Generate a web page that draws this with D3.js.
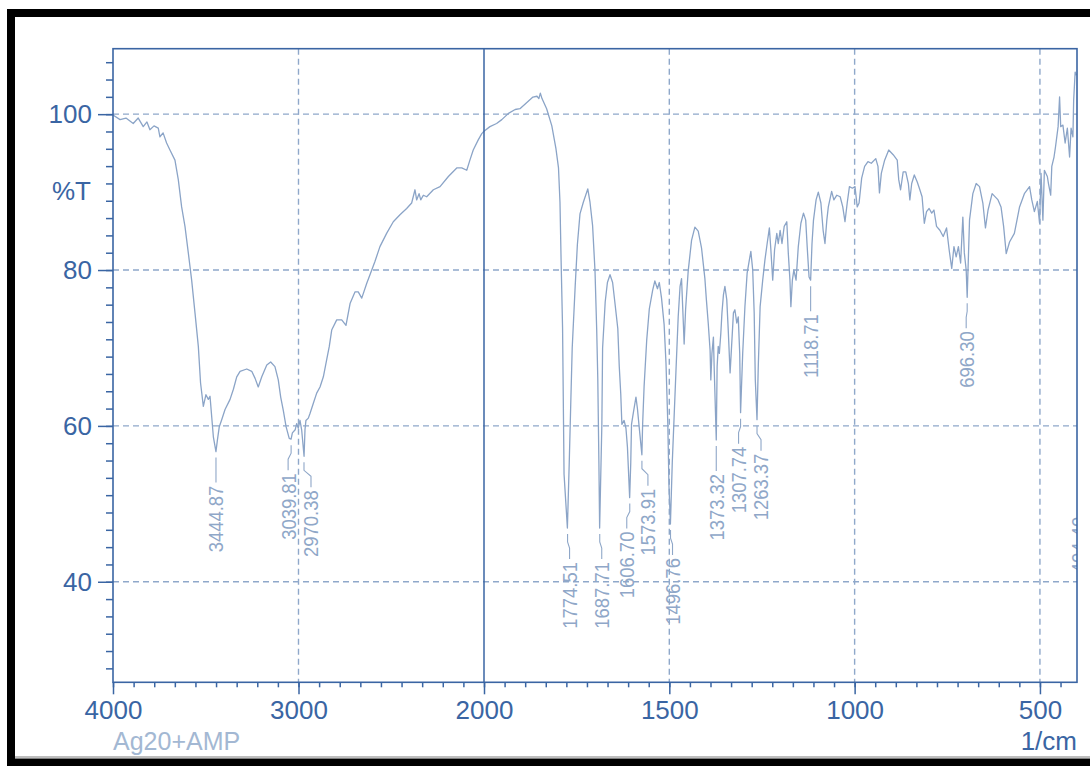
<!DOCTYPE html>
<html>
<head>
<meta charset="utf-8">
<script src="https://cdn.jsdelivr.net/npm/d3@7"></script>
<style>
  body { margin: 0; background: #fff; }
  text { font-family: "Liberation Sans", Arial, sans-serif; }
</style>
</head>
<body>
<div id="main"></div>
<script>
// spectrum (1/cm, %T)
const wavenumber = [
  4000, 3962, 3930, 3891, 3864, 3837, 3817, 3801, 3779, 3756, 3747, 3730, 3711, 3693, 3666, 3648, 3630, 3612, 3594, 3576,
  3558, 3540, 3528, 3513, 3499, 3486, 3477, 3468, 3459, 3445, 3437, 3427, 3414, 3396, 3369, 3351, 3333, 3315, 3279, 3252,
  3234, 3217, 3198, 3171, 3150, 3127, 3109, 3096, 3082, 3067, 3050, 3040, 3033, 3018, 3010, 3001, 2992, 2983, 2970, 2965,
  2960, 2947, 2938, 2920, 2902, 2884, 2866, 2848, 2834, 2821, 2794, 2767, 2744, 2722, 2695, 2678, 2659, 2632, 2605, 2588,
  2561, 2525, 2489, 2453, 2417, 2390, 2372, 2363, 2350, 2341, 2327, 2309, 2273, 2237, 2192, 2147, 2120, 2093, 2076, 2058,
  2031, 2012, 2000,
  1984, 1966, 1952, 1934, 1916, 1903, 1868, 1857, 1852, 1848, 1843.5, 1831, 1817, 1806, 1799, 1795, 1792, 1788, 1784, 1775,
  1770, 1766, 1762, 1754, 1748, 1741, 1732, 1725, 1720, 1714, 1707, 1700.5, 1696, 1693, 1690, 1688, 1682, 1680, 1673, 1667,
  1660, 1653, 1647, 1639, 1635, 1631, 1628, 1622, 1617, 1613, 1607, 1604, 1602, 1597, 1590, 1586, 1582, 1574, 1572, 1568,
  1561, 1554, 1545, 1539, 1532, 1527, 1521, 1514, 1509, 1504, 1501, 1497, 1492, 1487, 1482, 1476, 1471, 1467, 1462, 1460,
  1456, 1449, 1440, 1431, 1422, 1413, 1404, 1400, 1395, 1390, 1388, 1385, 1381, 1379, 1373.3, 1371, 1368, 1365, 1361, 1358,
  1354, 1350, 1345, 1341, 1336, 1332, 1327, 1323, 1318, 1314, 1310, 1307.7, 1302, 1296, 1290, 1284, 1280, 1275, 1271, 1268,
  1263.4, 1260, 1255, 1248, 1242, 1236, 1230, 1226, 1221, 1216, 1210, 1206, 1201, 1196, 1190, 1183, 1179, 1174.5, 1172, 1168,
  1164, 1158, 1152, 1145, 1138, 1132, 1128, 1123, 1118.7, 1115, 1111, 1104, 1098, 1091, 1085, 1080, 1075, 1071, 1062, 1056,
  1048, 1039, 1032, 1026, 1020, 1014, 1006, 999, 993, 988, 981, 973, 964, 955, 943, 937, 933, 928, 919, 908,
  896, 885, 881, 876, 869, 862, 855, 851, 846, 839, 831, 824, 818, 812, 806, 799, 792, 786, 779, 770,
  761, 752, 745, 738, 732, 726, 720, 714, 708, 704, 699, 696.3, 690, 681, 672, 663, 654, 647, 640, 629,
  613, 605, 598, 591, 582, 569, 555, 542, 528, 522, 515, 507, 501, 497, 492, 488, 480, 477, 471, 468,
  462, 458, 451, 447, 444, 438, 432, 426, 420, 416, 411, 409, 405, 402
]
const transmittance = [
  99.9, 99.3, 99.5, 98.8, 99.5, 98.4, 99.0, 98.0, 98.5, 98.2, 97.1, 97.6, 96.3, 95.4, 94.1, 91.6, 88.1, 85.6, 82.2, 78.7,
  74.5, 70.2, 65.5, 62.5, 64.0, 63.4, 63.8, 61.2, 58.6, 56.7, 58.2, 59.9, 60.8, 62.1, 63.4, 64.7, 66.3, 67.0, 67.3, 67.0,
  66.1, 65.0, 66.3, 67.8, 68.2, 67.6, 65.9, 63.7, 62.0, 59.9, 58.4, 58.3, 59.1, 59.5, 60.3, 59.7, 60.7, 59.5, 56.1, 59.5,
  60.7, 61.0, 61.6, 62.9, 64.2, 65.0, 66.3, 68.5, 70.2, 72.3, 73.6, 73.6, 72.9, 75.7, 77.2, 77.2, 76.4, 78.3, 80.0, 81.1,
  83.0, 84.7, 86.2, 87.1, 87.9, 88.6, 90.3, 89.0, 89.8, 89.0, 89.6, 89.4, 90.3, 90.7, 92.0, 93.1, 93.1, 92.8, 94.1, 95.4,
  96.7, 97.5, 97.8,
  98.4, 98.8, 99.3, 100.1, 100.6, 100.7, 102.2, 102.3, 102.0, 102.7, 102.0, 100.7, 98.5, 95.6, 93.1, 88.7, 81.3, 72.5, 53.8, 46.9,
  55.3, 62.7, 70.0, 77.9, 83.3, 87.2, 88.7, 89.7, 90.4, 88.7, 85.7, 79.9, 72.5, 66.1, 55.3, 46.9, 60.2, 70.0, 75.9, 78.4,
  79.4, 78.4, 75.9, 72.5, 67.6, 64.1, 60.2, 60.7, 59.7, 57.3, 50.8, 55.3, 60.2, 61.7, 63.7, 62.2, 60.2, 56.3, 60.2, 65.1,
  71.0, 75.0, 77.4, 78.6, 77.6, 78.4, 76.4, 73.0, 68.1, 60.2, 52.4, 47.4, 55.3, 61.2, 67.1, 74.0, 77.9, 78.9, 73.0, 70.5,
  75.0, 79.9, 83.8, 85.5, 85.0, 82.8, 78.9, 76.2, 73.2, 69.7, 65.9, 69.3, 71.4, 67.6, 58.2, 67.6, 70.2, 69.3, 71.9, 74.5,
  76.8, 77.9, 76.2, 72.3, 66.8, 70.2, 74.5, 74.9, 73.2, 74.0, 69.3, 61.7, 69.3, 75.3, 79.6, 81.3, 82.4, 80.0, 74.5, 65.9,
  60.8, 67.6, 75.3, 78.7, 81.3, 83.4, 85.4, 82.6, 78.7, 82.6, 84.7, 83.4, 85.1, 83.4, 85.6, 86.2, 82.2, 78.7, 75.3, 78.7,
  80.0, 78.7, 83.0, 86.0, 87.3, 86.4, 83.0, 79.1, 78.7, 83.4, 86.4, 89.0, 90.0, 88.6, 85.1, 83.4, 86.4, 88.1, 90.1, 89.0,
  89.6, 89.4, 88.1, 86.2, 88.6, 90.7, 90.5, 90.7, 88.1, 88.6, 91.8, 93.3, 93.9, 93.7, 94.3, 93.3, 89.9, 92.4, 94.1, 95.4,
  94.8, 94.1, 91.6, 90.3, 92.6, 92.6, 91.1, 89.0, 91.1, 92.2, 91.3, 90.3, 89.4, 86.0, 87.5, 87.9, 87.3, 87.7, 85.6, 85.1,
  84.3, 85.4, 82.6, 80.2, 83.0, 81.7, 83.0, 80.9, 86.8, 82.2, 80.0, 76.5, 86.4, 89.8, 91.1, 90.7, 88.6, 85.4, 87.7, 89.8,
  89.0, 88.1, 85.6, 82.1, 83.6, 84.7, 88.1, 89.8, 90.7, 89.0, 87.5, 88.8, 86.0, 92.4, 86.4, 92.8, 92.0, 91.1, 89.6, 93.3,
  94.5, 95.8, 98.4, 102.2, 98.4, 98.6, 96.3, 98.2, 94.5, 98.2, 97.1, 101.8, 105.4, 105.0
]

// picked peaks
const peakLabel = ["3444.87", "3039.81", "2970.38", "1774.51", "1687.71", "1606.70", "1573.91",
                   "1496.76", "1373.32", "1307.74", "1263.37", "1118.71", "696.30", "404.40"]
const peakWavenumber = [3444.87, 3039.81, 2970.38, 1774.51, 1687.71, 1606.70, 1573.91,
                        1496.76, 1373.32, 1307.74, 1263.37, 1118.71, 696.30, 404.40]
const peakT = [56.7, 58.3, 56.1, 46.9, 46.9, 50.8, 56.3, 47.4, 58.2, 61.7, 60.8, 78.7, 76.5, 52.7]

const xMajor = [4000, 3000, 2000, 1500, 1000, 500]
const yMajor = [100, 80, 60, 40]

// label nudges so neighbouring labels do not collide (layout only)
const labelShift = [0, -3, 7, 2, 2, -3, 6, 2, 0, -2, 4, 0, -1, 3]

const width = 1090,
    height = 766,
    plotLeft = 113, plotRight = 1077, plotTop = 48.7, plotBottom = 682.3

const axisColor = "#3a65a3",
    gridColor = "#8fa8ca",
    lineColor = "#8ba4c7",
    labelColor = "#8fa7c8"

const svg = d3.select("div#main")
    .append("svg")
    .attr("width", width)
    .attr("height", height)

// the scale breaks at 2000 1/cm, as on the instrument print-out
const x = d3.scaleLinear().domain([4000, 2000, 400]).range([plotLeft, 484, plotRight])
const y = d3.scaleLinear().domain([27.1, 108.4]).range([plotBottom, plotTop])

// black frame round the scan
svg.append("rect").attr("x", 7).attr("y", 9).attr("width", width - 7).attr("height", 8).attr("fill", "#000")
svg.append("rect").attr("x", 7).attr("y", 9).attr("width", 8).attr("height", height - 9).attr("fill", "#000")
svg.append("rect").attr("x", 7).attr("y", 758.5).attr("width", width - 7).attr("height", 8).attr("fill", "#000")
svg.append("line").attr("x1", 15).attr("x2", width).attr("y1", 757).attr("y2", 757)
    .attr("stroke", "#a8a8a8").attr("stroke-width", 1.5)

svg.append("clipPath").attr("id", "plot")
    .append("rect").attr("x", plotLeft).attr("y", plotTop)
    .attr("width", plotRight - plotLeft).attr("height", plotBottom - plotTop)

// grid
svg.append("g")
    .selectAll("line")
    .data(xMajor.filter(d => d != 4000 && d != 2000))
    .join("line")
    .attr("x1", d => x(d)).attr("x2", d => x(d))
    .attr("y1", plotTop).attr("y2", plotBottom)
    .attr("stroke", gridColor).attr("stroke-dasharray", "6,4").attr("stroke-width", 1.4)

svg.append("g")
    .selectAll("line")
    .data(yMajor)
    .join("line")
    .attr("x1", plotLeft).attr("x2", plotRight)
    .attr("y1", d => y(d)).attr("y2", d => y(d))
    .attr("stroke", gridColor).attr("stroke-dasharray", "6,4").attr("stroke-width", 1.4)

// minor ticks: nine steps between labelled ticks
const xMinor = d3.range(0, 19).map(k => 4000 - k * 1000 / 9)
    .concat(d3.range(1, 29).map(k => 2000 - k * 500 / 9))
const yMinor = d3.range(-6, 33).map(k => 40 + k * 20 / 9)
    .filter(v => v >= 27.1 && v <= 108.4)

function styleAxis(g) {
    g.select(".domain").remove()
    g.selectAll("line").attr("stroke", axisColor).attr("stroke-width", 1.5)
    g.selectAll("text").attr("fill", axisColor).style("font-size", "26px")
}

svg.append("g")
    .attr("transform", `translate(0,${plotBottom})`)
    .call(d3.axisBottom(x).tickValues(xMinor).tickSize(5).tickFormat(""))
    .call(styleAxis)
svg.append("g")
    .attr("transform", `translate(0,${plotBottom})`)
    .call(d3.axisBottom(x).tickValues(xMajor).tickSize(12).tickPadding(6).tickFormat(d3.format("d")))
    .call(styleAxis)

svg.append("g")
    .attr("transform", `translate(${plotLeft},0)`)
    .call(d3.axisLeft(y).tickValues(yMinor).tickSize(7).tickFormat(""))
    .call(styleAxis)
svg.append("g")
    .attr("transform", `translate(${plotLeft},0)`)
    .call(d3.axisLeft(y).tickValues(yMajor).tickSize(15).tickPadding(6).tickFormat(d3.format("d")))
    .call(styleAxis)

// spectrum
const spectrum = d3.zip(wavenumber, transmittance)
svg.append("path")
    .datum(spectrum)
    .attr("clip-path", "url(#plot)")
    .attr("fill", "none")
    .attr("stroke", lineColor)
    .attr("stroke-width", 1.3)
    .attr("stroke-linejoin", "round")
    .attr("d", d3.line().x(d => x(d[0])).y(d => y(d[1])))

// peak labels
const peaks = peakLabel.map((t, i) => ({ t: t, wn: peakWavenumber[i], T: peakT[i], dx: labelShift[i] }))
const pk = svg.append("g").attr("clip-path", "url(#plot)")

// leaders only where the label sits inside the frame
pk.selectAll("path")
    .data(peaks.filter(d => x(d.wn) + d.dx < plotRight - 4))
    .join("path")
    .attr("fill", "none")
    .attr("stroke", labelColor)
    .attr("stroke-width", 1.1)
    .attr("d", d => {
        const px = x(d.wn), py = y(d.T)
        return d3.line()([[px, py + 6], [px, py + 14], [px + d.dx, py + 20], [px + d.dx, py + 31]])
    })

pk.selectAll("text")
    .data(peaks)
    .join("text")
    .attr("transform", d => `translate(${x(d.wn) + d.dx},${y(d.T) + 34}) rotate(-90) scale(0.9,1)`)
    .attr("text-anchor", "end")
    .attr("dy", "0.36em")
    .attr("fill", labelColor)
    .style("font-size", "20.5px")
    .text(d => d.t)

// 2000 1/cm break line and plot frame
svg.append("line")
    .attr("x1", x(2000)).attr("x2", x(2000)).attr("y1", plotTop).attr("y2", plotBottom)
    .attr("stroke", axisColor).attr("stroke-width", 1.5)
svg.append("rect")
    .attr("x", plotLeft).attr("y", plotTop)
    .attr("width", plotRight - plotLeft).attr("height", plotBottom - plotTop)
    .attr("fill", "none").attr("stroke", axisColor).attr("stroke-width", 1.6)

// titles
svg.append("text").attr("x", 91).attr("y", 200).attr("text-anchor", "end")
    .attr("fill", axisColor).style("font-size", "26px").text("%T")
svg.append("text").attr("x", plotRight).attr("y", 750).attr("text-anchor", "end")
    .attr("fill", axisColor).style("font-size", "26px").text("1/cm")
svg.append("text").attr("x", plotLeft).attr("y", 750)
    .attr("fill", "#a3b8d3").style("font-size", "25px").text("Ag20+AMP")
</script>
</body>
</html>
